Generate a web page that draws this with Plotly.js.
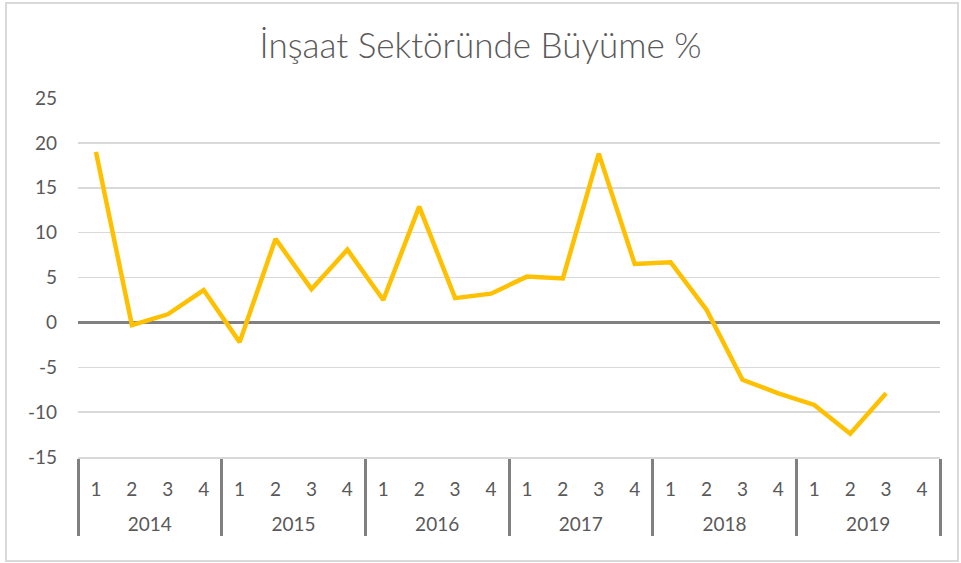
<!DOCTYPE html>
<html>
<head>
<meta charset="utf-8">
<script src="https://cdn.plot.ly/plotly-3.0.1.min.js"></script>
<style>html,body{margin:0;padding:0;background:#fff;}#chart{width:961px;height:563px;}</style>
</head>
<body>
<div id="chart"></div>
<script>
var years = ["2014", "2015", "2016", "2017", "2018", "2019"];
var quarters = ["1", "2", "3", "4"];
var growth = [19.0, -0.3, 0.9, 3.6,
              -2.2, 9.3, 3.7, 8.1,
              2.5, 12.9, 2.7, 3.2,
              5.1, 4.9, 18.8, 6.5,
              6.7, 1.4, -6.4, -7.9,
              -9.2, -12.4, -7.9, null];
var yTickVals = [-15, -10, -5, 0, 5, 10, 15, 20, 25];
var yTickText = ["-15", "-10", "-5", "0", "5", "10", "15", "20", "25"];

var xYear = [], xQ = [];
years.forEach(function (y) {
  quarters.forEach(function (q) { xYear.push("<br>" + y); xQ.push(q); });
});

var font = "Lato, 'Open Sans', sans-serif";

var trace = {
  type: "scatter",
  mode: "lines",
  x: [xYear, xQ],
  y: growth,
  line: {color: "#FFC000", width: 4.5},
  connectgaps: false,
  hoverinfo: "y"
};

var PL = 78, PR = 940, PT = 98, PB = 457;
function px(x) { return (x - PL) / (PR - PL); }
function py(y) { return (PB - y) / (PB - PT); }

var layout = {
  width: 961,
  height: 563,
  margin: {l: PL, r: 961 - PR, t: PT, b: 563 - PB, pad: 0},
  paper_bgcolor: "#ffffff",
  plot_bgcolor: "#ffffff",
  showlegend: false,
  font: {family: font, color: "#595959", size: 19},
  title: {
    text: "İnşaat Sektöründe Büyüme %",
    font: {family: font, size: 35, color: "#595959", weight: 300},
    x: 0.5, xanchor: "center", xref: "container",
    y: 1 - 46 / 563, yanchor: "middle", yref: "container"
  },
  xaxis: {
    type: "multicategory",
    range: [-0.5, 23.5],
    showgrid: false,
    showline: true,
    linecolor: "#d9d9d9",
    linewidth: 1.5,
    showdividers: true,
    dividercolor: "#808080",
    dividerwidth: 3,
    ticks: "",
    ticklabelstandoff: 15,
    tickfont: {family: font, size: 19, color: "#595959"},
    zeroline: false,
    fixedrange: true
  },
  yaxis: {
    range: [-15, 25],
    tickmode: "array",
    tickvals: yTickVals,
    ticktext: yTickText,
    showgrid: true,
    gridcolor: "#d9d9d9",
    gridwidth: 1.5,
    zeroline: true,
    zerolinecolor: "#808080",
    zerolinewidth: 3.5,
    showline: false,
    ticks: "",
    ticklabelstandoff: 20,
    tickfont: {family: font, size: 19, color: "#595959"},
    fixedrange: true
  },
  shapes: [{
    type: "rect", xref: "paper", yref: "paper",
    x0: px(6), x1: px(958), y0: py(561), y1: py(3),
    line: {color: "#d9d9d9", width: 2}, fillcolor: "rgba(0,0,0,0)", layer: "below"
  }]
};

Plotly.newPlot("chart", [trace], layout, {displayModeBar: false, staticPlot: true});
</script>
</body>
</html>
